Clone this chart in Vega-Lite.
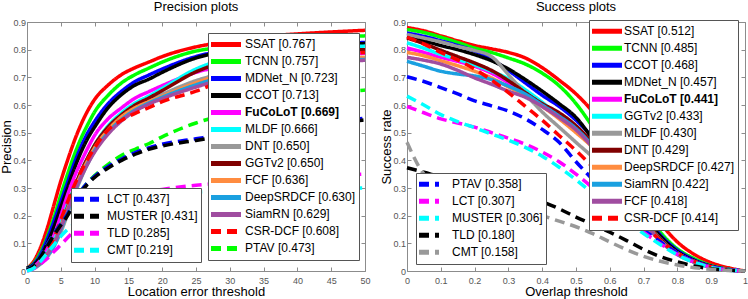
{
"$schema": "https://vega.github.io/schema/vega-lite/v6.json",
"padding": 0,
"autosize": {"type": "pad"},
"bounds": "flush",
"spacing": 42,
"config": {
  "font": "Liberation Sans",
  "view": {"stroke": "#8c8c8c", "strokeWidth": 1},
  "title": {"fontSize": 13, "fontWeight": "normal", "font": "Liberation Sans", "color": "#000000", "offset": 0},
  "axis": {"domain": false, "grid": false, "tickColor": "#8c8c8c", "tickSize": -4, "labelPadding": 5.5, "labelColor": "#555555", "labelFontSize": 9, "labelFont": "Liberation Sans", "titleFont": "Liberation Sans", "titleFontSize": 13, "titleFontWeight": "normal", "titleColor": "#000000", "labelFlush": false, "labelOverlap": false, "format": "~g"},
  "axisX": {"labelPadding": 9}
},
"datasets": {
"prec": [
{"tracker":"SSAT","x":0,"y":0.01},{"tracker":"SSAT","x":1,"y":0.035},{"tracker":"SSAT","x":2,"y":0.085},{"tracker":"SSAT","x":3,"y":0.155},{"tracker":"SSAT","x":4,"y":0.24},{"tracker":"SSAT","x":5,"y":0.325},{"tracker":"SSAT","x":6,"y":0.4},{"tracker":"SSAT","x":7,"y":0.47},{"tracker":"SSAT","x":8,"y":0.53},{"tracker":"SSAT","x":9,"y":0.58},{"tracker":"SSAT","x":10,"y":0.62},{"tracker":"SSAT","x":12,"y":0.672},{"tracker":"SSAT","x":14,"y":0.71},{"tracker":"SSAT","x":16,"y":0.735},{"tracker":"SSAT","x":18,"y":0.755},{"tracker":"SSAT","x":20,"y":0.775},{"tracker":"SSAT","x":25,"y":0.81},{"tracker":"SSAT","x":30,"y":0.83},{"tracker":"SSAT","x":35,"y":0.848},{"tracker":"SSAT","x":40,"y":0.857},{"tracker":"SSAT","x":45,"y":0.864},{"tracker":"SSAT","x":50,"y":0.87},
{"tracker":"TCNN","x":0,"y":0.01},{"tracker":"TCNN","x":1,"y":0.028},{"tracker":"TCNN","x":2,"y":0.068},{"tracker":"TCNN","x":3,"y":0.125},{"tracker":"TCNN","x":4,"y":0.195},{"tracker":"TCNN","x":5,"y":0.275},{"tracker":"TCNN","x":6,"y":0.35},{"tracker":"TCNN","x":7,"y":0.42},{"tracker":"TCNN","x":8,"y":0.48},{"tracker":"TCNN","x":9,"y":0.53},{"tracker":"TCNN","x":10,"y":0.575},{"tracker":"TCNN","x":12,"y":0.635},{"tracker":"TCNN","x":14,"y":0.68},{"tracker":"TCNN","x":16,"y":0.71},{"tracker":"TCNN","x":18,"y":0.733},{"tracker":"TCNN","x":20,"y":0.755},{"tracker":"TCNN","x":25,"y":0.795},{"tracker":"TCNN","x":30,"y":0.81},{"tracker":"TCNN","x":35,"y":0.825},{"tracker":"TCNN","x":40,"y":0.835},{"tracker":"TCNN","x":45,"y":0.843},{"tracker":"TCNN","x":50,"y":0.85},
{"tracker":"MDNet_N","x":0,"y":0.01},{"tracker":"MDNet_N","x":1,"y":0.025},{"tracker":"MDNet_N","x":2,"y":0.06},{"tracker":"MDNet_N","x":3,"y":0.115},{"tracker":"MDNet_N","x":4,"y":0.18},{"tracker":"MDNet_N","x":5,"y":0.25},{"tracker":"MDNet_N","x":6,"y":0.32},{"tracker":"MDNet_N","x":7,"y":0.39},{"tracker":"MDNet_N","x":8,"y":0.45},{"tracker":"MDNet_N","x":9,"y":0.5},{"tracker":"MDNet_N","x":10,"y":0.54},{"tracker":"MDNet_N","x":12,"y":0.605},{"tracker":"MDNet_N","x":14,"y":0.65},{"tracker":"MDNet_N","x":16,"y":0.685},{"tracker":"MDNet_N","x":18,"y":0.708},{"tracker":"MDNet_N","x":20,"y":0.73},{"tracker":"MDNet_N","x":25,"y":0.775},{"tracker":"MDNet_N","x":30,"y":0.8},{"tracker":"MDNet_N","x":35,"y":0.812},{"tracker":"MDNet_N","x":40,"y":0.818},{"tracker":"MDNet_N","x":45,"y":0.822},{"tracker":"MDNet_N","x":50,"y":0.826},
{"tracker":"CCOT","x":0,"y":0.01},{"tracker":"CCOT","x":1,"y":0.022},{"tracker":"CCOT","x":2,"y":0.052},{"tracker":"CCOT","x":3,"y":0.1},{"tracker":"CCOT","x":4,"y":0.16},{"tracker":"CCOT","x":5,"y":0.23},{"tracker":"CCOT","x":6,"y":0.3},{"tracker":"CCOT","x":7,"y":0.37},{"tracker":"CCOT","x":8,"y":0.43},{"tracker":"CCOT","x":9,"y":0.48},{"tracker":"CCOT","x":10,"y":0.52},{"tracker":"CCOT","x":12,"y":0.59},{"tracker":"CCOT","x":14,"y":0.638},{"tracker":"CCOT","x":16,"y":0.672},{"tracker":"CCOT","x":18,"y":0.693},{"tracker":"CCOT","x":20,"y":0.718},{"tracker":"CCOT","x":25,"y":0.77},{"tracker":"CCOT","x":30,"y":0.795},{"tracker":"CCOT","x":35,"y":0.806},{"tracker":"CCOT","x":40,"y":0.813},{"tracker":"CCOT","x":45,"y":0.818},{"tracker":"CCOT","x":50,"y":0.822},
{"tracker":"FuCoLoT","x":0,"y":0.005},{"tracker":"FuCoLoT","x":1,"y":0.015},{"tracker":"FuCoLoT","x":2,"y":0.04},{"tracker":"FuCoLoT","x":3,"y":0.08},{"tracker":"FuCoLoT","x":4,"y":0.13},{"tracker":"FuCoLoT","x":5,"y":0.2},{"tracker":"FuCoLoT","x":6,"y":0.275},{"tracker":"FuCoLoT","x":7,"y":0.34},{"tracker":"FuCoLoT","x":8,"y":0.395},{"tracker":"FuCoLoT","x":9,"y":0.445},{"tracker":"FuCoLoT","x":10,"y":0.49},{"tracker":"FuCoLoT","x":12,"y":0.55},{"tracker":"FuCoLoT","x":14,"y":0.59},{"tracker":"FuCoLoT","x":16,"y":0.625},{"tracker":"FuCoLoT","x":18,"y":0.648},{"tracker":"FuCoLoT","x":20,"y":0.67},{"tracker":"FuCoLoT","x":25,"y":0.718},{"tracker":"FuCoLoT","x":30,"y":0.745},{"tracker":"FuCoLoT","x":35,"y":0.762},{"tracker":"FuCoLoT","x":40,"y":0.773},{"tracker":"FuCoLoT","x":45,"y":0.781},{"tracker":"FuCoLoT","x":50,"y":0.787},
{"tracker":"MLDF","x":0,"y":0.005},{"tracker":"MLDF","x":1,"y":0.012},{"tracker":"MLDF","x":2,"y":0.03},{"tracker":"MLDF","x":3,"y":0.065},{"tracker":"MLDF","x":4,"y":0.11},{"tracker":"MLDF","x":5,"y":0.17},{"tracker":"MLDF","x":6,"y":0.24},{"tracker":"MLDF","x":7,"y":0.3},{"tracker":"MLDF","x":8,"y":0.36},{"tracker":"MLDF","x":9,"y":0.41},{"tracker":"MLDF","x":10,"y":0.455},{"tracker":"MLDF","x":12,"y":0.525},{"tracker":"MLDF","x":14,"y":0.572},{"tracker":"MLDF","x":16,"y":0.607},{"tracker":"MLDF","x":18,"y":0.632},{"tracker":"MLDF","x":20,"y":0.66},{"tracker":"MLDF","x":25,"y":0.73},{"tracker":"MLDF","x":30,"y":0.77},{"tracker":"MLDF","x":35,"y":0.79},{"tracker":"MLDF","x":40,"y":0.8},{"tracker":"MLDF","x":45,"y":0.807},{"tracker":"MLDF","x":50,"y":0.813},
{"tracker":"DNT","x":0,"y":0.005},{"tracker":"DNT","x":1,"y":0.01},{"tracker":"DNT","x":2,"y":0.025},{"tracker":"DNT","x":3,"y":0.05},{"tracker":"DNT","x":4,"y":0.09},{"tracker":"DNT","x":5,"y":0.14},{"tracker":"DNT","x":6,"y":0.205},{"tracker":"DNT","x":7,"y":0.275},{"tracker":"DNT","x":8,"y":0.335},{"tracker":"DNT","x":9,"y":0.39},{"tracker":"DNT","x":10,"y":0.435},{"tracker":"DNT","x":12,"y":0.505},{"tracker":"DNT","x":14,"y":0.555},{"tracker":"DNT","x":16,"y":0.59},{"tracker":"DNT","x":18,"y":0.615},{"tracker":"DNT","x":20,"y":0.638},{"tracker":"DNT","x":25,"y":0.688},{"tracker":"DNT","x":30,"y":0.72},{"tracker":"DNT","x":35,"y":0.74},{"tracker":"DNT","x":40,"y":0.755},{"tracker":"DNT","x":45,"y":0.765},{"tracker":"DNT","x":50,"y":0.772},
{"tracker":"GGTv2","x":0,"y":0.005},{"tracker":"GGTv2","x":1,"y":0.012},{"tracker":"GGTv2","x":2,"y":0.03},{"tracker":"GGTv2","x":3,"y":0.06},{"tracker":"GGTv2","x":4,"y":0.1},{"tracker":"GGTv2","x":5,"y":0.16},{"tracker":"GGTv2","x":6,"y":0.23},{"tracker":"GGTv2","x":7,"y":0.3},{"tracker":"GGTv2","x":8,"y":0.36},{"tracker":"GGTv2","x":9,"y":0.41},{"tracker":"GGTv2","x":10,"y":0.455},{"tracker":"GGTv2","x":12,"y":0.52},{"tracker":"GGTv2","x":14,"y":0.565},{"tracker":"GGTv2","x":16,"y":0.6},{"tracker":"GGTv2","x":18,"y":0.625},{"tracker":"GGTv2","x":20,"y":0.652},{"tracker":"GGTv2","x":25,"y":0.72},{"tracker":"GGTv2","x":30,"y":0.76},{"tracker":"GGTv2","x":35,"y":0.78},{"tracker":"GGTv2","x":40,"y":0.79},{"tracker":"GGTv2","x":45,"y":0.797},{"tracker":"GGTv2","x":50,"y":0.8},
{"tracker":"FCF","x":0,"y":0.005},{"tracker":"FCF","x":1,"y":0.012},{"tracker":"FCF","x":2,"y":0.03},{"tracker":"FCF","x":3,"y":0.06},{"tracker":"FCF","x":4,"y":0.1},{"tracker":"FCF","x":5,"y":0.16},{"tracker":"FCF","x":6,"y":0.225},{"tracker":"FCF","x":7,"y":0.29},{"tracker":"FCF","x":8,"y":0.35},{"tracker":"FCF","x":9,"y":0.4},{"tracker":"FCF","x":10,"y":0.445},{"tracker":"FCF","x":12,"y":0.51},{"tracker":"FCF","x":14,"y":0.558},{"tracker":"FCF","x":16,"y":0.59},{"tracker":"FCF","x":18,"y":0.612},{"tracker":"FCF","x":20,"y":0.632},{"tracker":"FCF","x":25,"y":0.68},{"tracker":"FCF","x":30,"y":0.72},{"tracker":"FCF","x":35,"y":0.745},{"tracker":"FCF","x":40,"y":0.76},{"tracker":"FCF","x":45,"y":0.768},{"tracker":"FCF","x":50,"y":0.772},
{"tracker":"DeepSRDCF","x":0,"y":0.005},{"tracker":"DeepSRDCF","x":1,"y":0.01},{"tracker":"DeepSRDCF","x":2,"y":0.028},{"tracker":"DeepSRDCF","x":3,"y":0.055},{"tracker":"DeepSRDCF","x":4,"y":0.09},{"tracker":"DeepSRDCF","x":5,"y":0.15},{"tracker":"DeepSRDCF","x":6,"y":0.215},{"tracker":"DeepSRDCF","x":7,"y":0.28},{"tracker":"DeepSRDCF","x":8,"y":0.34},{"tracker":"DeepSRDCF","x":9,"y":0.39},{"tracker":"DeepSRDCF","x":10,"y":0.435},{"tracker":"DeepSRDCF","x":12,"y":0.5},{"tracker":"DeepSRDCF","x":14,"y":0.548},{"tracker":"DeepSRDCF","x":16,"y":0.582},{"tracker":"DeepSRDCF","x":18,"y":0.607},{"tracker":"DeepSRDCF","x":20,"y":0.628},{"tracker":"DeepSRDCF","x":25,"y":0.673},{"tracker":"DeepSRDCF","x":30,"y":0.71},{"tracker":"DeepSRDCF","x":35,"y":0.735},{"tracker":"DeepSRDCF","x":40,"y":0.75},{"tracker":"DeepSRDCF","x":45,"y":0.758},{"tracker":"DeepSRDCF","x":50,"y":0.765},
{"tracker":"SiamRN","x":0,"y":0.005},{"tracker":"SiamRN","x":1,"y":0.012},{"tracker":"SiamRN","x":2,"y":0.03},{"tracker":"SiamRN","x":3,"y":0.06},{"tracker":"SiamRN","x":4,"y":0.1},{"tracker":"SiamRN","x":5,"y":0.155},{"tracker":"SiamRN","x":6,"y":0.22},{"tracker":"SiamRN","x":7,"y":0.285},{"tracker":"SiamRN","x":8,"y":0.34},{"tracker":"SiamRN","x":9,"y":0.388},{"tracker":"SiamRN","x":10,"y":0.43},{"tracker":"SiamRN","x":12,"y":0.495},{"tracker":"SiamRN","x":14,"y":0.543},{"tracker":"SiamRN","x":16,"y":0.578},{"tracker":"SiamRN","x":18,"y":0.603},{"tracker":"SiamRN","x":20,"y":0.623},{"tracker":"SiamRN","x":25,"y":0.665},{"tracker":"SiamRN","x":30,"y":0.7},{"tracker":"SiamRN","x":35,"y":0.725},{"tracker":"SiamRN","x":40,"y":0.742},{"tracker":"SiamRN","x":45,"y":0.752},{"tracker":"SiamRN","x":50,"y":0.762},
{"tracker":"CSR-DCF","x":0,"y":0.005},{"tracker":"CSR-DCF","x":1,"y":0.012},{"tracker":"CSR-DCF","x":2,"y":0.03},{"tracker":"CSR-DCF","x":3,"y":0.07},{"tracker":"CSR-DCF","x":4,"y":0.12},{"tracker":"CSR-DCF","x":5,"y":0.185},{"tracker":"CSR-DCF","x":6,"y":0.25},{"tracker":"CSR-DCF","x":7,"y":0.31},{"tracker":"CSR-DCF","x":8,"y":0.36},{"tracker":"CSR-DCF","x":9,"y":0.405},{"tracker":"CSR-DCF","x":10,"y":0.445},{"tracker":"CSR-DCF","x":12,"y":0.51},{"tracker":"CSR-DCF","x":14,"y":0.545},{"tracker":"CSR-DCF","x":16,"y":0.57},{"tracker":"CSR-DCF","x":18,"y":0.59},{"tracker":"CSR-DCF","x":20,"y":0.612},{"tracker":"CSR-DCF","x":25,"y":0.65},{"tracker":"CSR-DCF","x":30,"y":0.7},{"tracker":"CSR-DCF","x":35,"y":0.74},{"tracker":"CSR-DCF","x":40,"y":0.765},{"tracker":"CSR-DCF","x":45,"y":0.78},{"tracker":"CSR-DCF","x":50,"y":0.79},
{"tracker":"PTAV","x":0,"y":0.003},{"tracker":"PTAV","x":1,"y":0.02},{"tracker":"PTAV","x":2,"y":0.055},{"tracker":"PTAV","x":3,"y":0.095},{"tracker":"PTAV","x":4,"y":0.135},{"tracker":"PTAV","x":5,"y":0.17},{"tracker":"PTAV","x":6,"y":0.205},{"tracker":"PTAV","x":7,"y":0.25},{"tracker":"PTAV","x":8,"y":0.29},{"tracker":"PTAV","x":9,"y":0.32},{"tracker":"PTAV","x":10,"y":0.345},{"tracker":"PTAV","x":12,"y":0.385},{"tracker":"PTAV","x":14,"y":0.418},{"tracker":"PTAV","x":16,"y":0.44},{"tracker":"PTAV","x":18,"y":0.46},{"tracker":"PTAV","x":20,"y":0.485},{"tracker":"PTAV","x":25,"y":0.535},{"tracker":"PTAV","x":30,"y":0.57},{"tracker":"PTAV","x":35,"y":0.6},{"tracker":"PTAV","x":40,"y":0.625},{"tracker":"PTAV","x":45,"y":0.642},{"tracker":"PTAV","x":50,"y":0.654},
{"tracker":"LCT","x":0,"y":0.003},{"tracker":"LCT","x":1,"y":0.02},{"tracker":"LCT","x":2,"y":0.055},{"tracker":"LCT","x":3,"y":0.095},{"tracker":"LCT","x":4,"y":0.135},{"tracker":"LCT","x":5,"y":0.17},{"tracker":"LCT","x":6,"y":0.205},{"tracker":"LCT","x":7,"y":0.25},{"tracker":"LCT","x":8,"y":0.29},{"tracker":"LCT","x":9,"y":0.32},{"tracker":"LCT","x":10,"y":0.342},{"tracker":"LCT","x":12,"y":0.378},{"tracker":"LCT","x":14,"y":0.405},{"tracker":"LCT","x":16,"y":0.428},{"tracker":"LCT","x":18,"y":0.445},{"tracker":"LCT","x":20,"y":0.458},{"tracker":"LCT","x":25,"y":0.478},{"tracker":"LCT","x":30,"y":0.497},{"tracker":"LCT","x":35,"y":0.512},{"tracker":"LCT","x":40,"y":0.527},{"tracker":"LCT","x":45,"y":0.54},{"tracker":"LCT","x":50,"y":0.552},
{"tracker":"MUSTER","x":0,"y":0.003},{"tracker":"MUSTER","x":1,"y":0.018},{"tracker":"MUSTER","x":2,"y":0.05},{"tracker":"MUSTER","x":3,"y":0.09},{"tracker":"MUSTER","x":4,"y":0.13},{"tracker":"MUSTER","x":5,"y":0.165},{"tracker":"MUSTER","x":6,"y":0.2},{"tracker":"MUSTER","x":7,"y":0.245},{"tracker":"MUSTER","x":8,"y":0.285},{"tracker":"MUSTER","x":9,"y":0.315},{"tracker":"MUSTER","x":10,"y":0.338},{"tracker":"MUSTER","x":12,"y":0.372},{"tracker":"MUSTER","x":14,"y":0.4},{"tracker":"MUSTER","x":16,"y":0.422},{"tracker":"MUSTER","x":18,"y":0.44},{"tracker":"MUSTER","x":20,"y":0.452},{"tracker":"MUSTER","x":25,"y":0.472},{"tracker":"MUSTER","x":30,"y":0.49},{"tracker":"MUSTER","x":35,"y":0.505},{"tracker":"MUSTER","x":40,"y":0.52},{"tracker":"MUSTER","x":45,"y":0.534},{"tracker":"MUSTER","x":50,"y":0.546},
{"tracker":"TLD","x":0,"y":0},{"tracker":"TLD","x":1,"y":0.008},{"tracker":"TLD","x":2,"y":0.025},{"tracker":"TLD","x":3,"y":0.045},{"tracker":"TLD","x":4,"y":0.07},{"tracker":"TLD","x":5,"y":0.095},{"tracker":"TLD","x":6,"y":0.12},{"tracker":"TLD","x":7,"y":0.145},{"tracker":"TLD","x":8,"y":0.17},{"tracker":"TLD","x":9,"y":0.19},{"tracker":"TLD","x":10,"y":0.21},{"tracker":"TLD","x":12,"y":0.24},{"tracker":"TLD","x":14,"y":0.262},{"tracker":"TLD","x":16,"y":0.278},{"tracker":"TLD","x":18,"y":0.288},{"tracker":"TLD","x":20,"y":0.295},{"tracker":"TLD","x":25,"y":0.31},{"tracker":"TLD","x":30,"y":0.32},{"tracker":"TLD","x":35,"y":0.33},{"tracker":"TLD","x":40,"y":0.338},{"tracker":"TLD","x":45,"y":0.345},{"tracker":"TLD","x":50,"y":0.35},
{"tracker":"CMT","x":0,"y":0},{"tracker":"CMT","x":1,"y":0.01},{"tracker":"CMT","x":2,"y":0.035},{"tracker":"CMT","x":3,"y":0.065},{"tracker":"CMT","x":4,"y":0.095},{"tracker":"CMT","x":5,"y":0.125},{"tracker":"CMT","x":6,"y":0.15},{"tracker":"CMT","x":7,"y":0.17},{"tracker":"CMT","x":8,"y":0.19},{"tracker":"CMT","x":9,"y":0.205},{"tracker":"CMT","x":10,"y":0.218},{"tracker":"CMT","x":12,"y":0.24},{"tracker":"CMT","x":14,"y":0.255},{"tracker":"CMT","x":16,"y":0.265},{"tracker":"CMT","x":18,"y":0.272},{"tracker":"CMT","x":20,"y":0.278},{"tracker":"CMT","x":25,"y":0.285},{"tracker":"CMT","x":30,"y":0.29},{"tracker":"CMT","x":35,"y":0.293},{"tracker":"CMT","x":40,"y":0.296},{"tracker":"CMT","x":45,"y":0.298},{"tracker":"CMT","x":50,"y":0.3}
],
"succ": [
{"tracker":"SSAT","x":0,"y":0.88},{"tracker":"SSAT","x":0.05,"y":0.868},{"tracker":"SSAT","x":0.1,"y":0.85},{"tracker":"SSAT","x":0.15,"y":0.832},{"tracker":"SSAT","x":0.2,"y":0.815},{"tracker":"SSAT","x":0.25,"y":0.803},{"tracker":"SSAT","x":0.3,"y":0.79},{"tracker":"SSAT","x":0.35,"y":0.77},{"tracker":"SSAT","x":0.4,"y":0.735},{"tracker":"SSAT","x":0.45,"y":0.69},{"tracker":"SSAT","x":0.5,"y":0.64},{"tracker":"SSAT","x":0.55,"y":0.575},{"tracker":"SSAT","x":0.6,"y":0.49},{"tracker":"SSAT","x":0.65,"y":0.39},{"tracker":"SSAT","x":0.7,"y":0.28},{"tracker":"SSAT","x":0.75,"y":0.175},{"tracker":"SSAT","x":0.8,"y":0.105},{"tracker":"SSAT","x":0.85,"y":0.06},{"tracker":"SSAT","x":0.9,"y":0.03},{"tracker":"SSAT","x":0.95,"y":0.012},{"tracker":"SSAT","x":1,"y":0},
{"tracker":"TCNN","x":0,"y":0.873},{"tracker":"TCNN","x":0.05,"y":0.862},{"tracker":"TCNN","x":0.1,"y":0.845},{"tracker":"TCNN","x":0.15,"y":0.826},{"tracker":"TCNN","x":0.2,"y":0.806},{"tracker":"TCNN","x":0.25,"y":0.79},{"tracker":"TCNN","x":0.3,"y":0.77},{"tracker":"TCNN","x":0.35,"y":0.748},{"tracker":"TCNN","x":0.4,"y":0.715},{"tracker":"TCNN","x":0.45,"y":0.67},{"tracker":"TCNN","x":0.5,"y":0.605},{"tracker":"TCNN","x":0.55,"y":0.52},{"tracker":"TCNN","x":0.6,"y":0.43},{"tracker":"TCNN","x":0.65,"y":0.33},{"tracker":"TCNN","x":0.7,"y":0.23},{"tracker":"TCNN","x":0.75,"y":0.14},{"tracker":"TCNN","x":0.8,"y":0.08},{"tracker":"TCNN","x":0.85,"y":0.045},{"tracker":"TCNN","x":0.9,"y":0.02},{"tracker":"TCNN","x":0.95,"y":0.007},{"tracker":"TCNN","x":1,"y":0},
{"tracker":"CCOT","x":0,"y":0.86},{"tracker":"CCOT","x":0.05,"y":0.848},{"tracker":"CCOT","x":0.1,"y":0.832},{"tracker":"CCOT","x":0.15,"y":0.815},{"tracker":"CCOT","x":0.2,"y":0.795},{"tracker":"CCOT","x":0.25,"y":0.765},{"tracker":"CCOT","x":0.3,"y":0.725},{"tracker":"CCOT","x":0.35,"y":0.68},{"tracker":"CCOT","x":0.4,"y":0.635},{"tracker":"CCOT","x":0.45,"y":0.595},{"tracker":"CCOT","x":0.5,"y":0.545},{"tracker":"CCOT","x":0.55,"y":0.48},{"tracker":"CCOT","x":0.6,"y":0.39},{"tracker":"CCOT","x":0.65,"y":0.3},{"tracker":"CCOT","x":0.7,"y":0.21},{"tracker":"CCOT","x":0.75,"y":0.13},{"tracker":"CCOT","x":0.8,"y":0.075},{"tracker":"CCOT","x":0.85,"y":0.04},{"tracker":"CCOT","x":0.9,"y":0.018},{"tracker":"CCOT","x":0.95,"y":0.006},{"tracker":"CCOT","x":1,"y":0},
{"tracker":"MDNet_N","x":0,"y":0.848},{"tracker":"MDNet_N","x":0.05,"y":0.832},{"tracker":"MDNet_N","x":0.1,"y":0.815},{"tracker":"MDNet_N","x":0.15,"y":0.8},{"tracker":"MDNet_N","x":0.2,"y":0.782},{"tracker":"MDNet_N","x":0.25,"y":0.76},{"tracker":"MDNet_N","x":0.3,"y":0.73},{"tracker":"MDNet_N","x":0.35,"y":0.692},{"tracker":"MDNet_N","x":0.4,"y":0.65},{"tracker":"MDNet_N","x":0.45,"y":0.605},{"tracker":"MDNet_N","x":0.5,"y":0.555},{"tracker":"MDNet_N","x":0.55,"y":0.475},{"tracker":"MDNet_N","x":0.6,"y":0.385},{"tracker":"MDNet_N","x":0.65,"y":0.29},{"tracker":"MDNet_N","x":0.7,"y":0.2},{"tracker":"MDNet_N","x":0.75,"y":0.125},{"tracker":"MDNet_N","x":0.8,"y":0.07},{"tracker":"MDNet_N","x":0.85,"y":0.038},{"tracker":"MDNet_N","x":0.9,"y":0.017},{"tracker":"MDNet_N","x":0.95,"y":0.005},{"tracker":"MDNet_N","x":1,"y":0},
{"tracker":"FuCoLoT","x":0,"y":0.806},{"tracker":"FuCoLoT","x":0.05,"y":0.79},{"tracker":"FuCoLoT","x":0.1,"y":0.772},{"tracker":"FuCoLoT","x":0.15,"y":0.758},{"tracker":"FuCoLoT","x":0.2,"y":0.74},{"tracker":"FuCoLoT","x":0.25,"y":0.715},{"tracker":"FuCoLoT","x":0.3,"y":0.68},{"tracker":"FuCoLoT","x":0.35,"y":0.64},{"tracker":"FuCoLoT","x":0.4,"y":0.595},{"tracker":"FuCoLoT","x":0.45,"y":0.555},{"tracker":"FuCoLoT","x":0.5,"y":0.51},{"tracker":"FuCoLoT","x":0.55,"y":0.455},{"tracker":"FuCoLoT","x":0.6,"y":0.37},{"tracker":"FuCoLoT","x":0.65,"y":0.28},{"tracker":"FuCoLoT","x":0.7,"y":0.19},{"tracker":"FuCoLoT","x":0.75,"y":0.115},{"tracker":"FuCoLoT","x":0.8,"y":0.065},{"tracker":"FuCoLoT","x":0.85,"y":0.035},{"tracker":"FuCoLoT","x":0.9,"y":0.015},{"tracker":"FuCoLoT","x":0.95,"y":0.005},{"tracker":"FuCoLoT","x":1,"y":0},
{"tracker":"GGTv2","x":0,"y":0.825},{"tracker":"GGTv2","x":0.05,"y":0.805},{"tracker":"GGTv2","x":0.1,"y":0.783},{"tracker":"GGTv2","x":0.15,"y":0.765},{"tracker":"GGTv2","x":0.2,"y":0.745},{"tracker":"GGTv2","x":0.25,"y":0.722},{"tracker":"GGTv2","x":0.3,"y":0.695},{"tracker":"GGTv2","x":0.35,"y":0.655},{"tracker":"GGTv2","x":0.4,"y":0.61},{"tracker":"GGTv2","x":0.45,"y":0.56},{"tracker":"GGTv2","x":0.5,"y":0.515},{"tracker":"GGTv2","x":0.55,"y":0.46},{"tracker":"GGTv2","x":0.6,"y":0.375},{"tracker":"GGTv2","x":0.65,"y":0.28},{"tracker":"GGTv2","x":0.7,"y":0.19},{"tracker":"GGTv2","x":0.75,"y":0.115},{"tracker":"GGTv2","x":0.8,"y":0.065},{"tracker":"GGTv2","x":0.85,"y":0.035},{"tracker":"GGTv2","x":0.9,"y":0.015},{"tracker":"GGTv2","x":0.95,"y":0.005},{"tracker":"GGTv2","x":1,"y":0},
{"tracker":"MLDF","x":0,"y":0.855},{"tracker":"MLDF","x":0.05,"y":0.842},{"tracker":"MLDF","x":0.1,"y":0.828},{"tracker":"MLDF","x":0.15,"y":0.812},{"tracker":"MLDF","x":0.2,"y":0.797},{"tracker":"MLDF","x":0.25,"y":0.775},{"tracker":"MLDF","x":0.3,"y":0.71},{"tracker":"MLDF","x":0.35,"y":0.64},{"tracker":"MLDF","x":0.4,"y":0.575},{"tracker":"MLDF","x":0.45,"y":0.52},{"tracker":"MLDF","x":0.5,"y":0.465},{"tracker":"MLDF","x":0.55,"y":0.41},{"tracker":"MLDF","x":0.6,"y":0.34},{"tracker":"MLDF","x":0.65,"y":0.26},{"tracker":"MLDF","x":0.7,"y":0.18},{"tracker":"MLDF","x":0.75,"y":0.11},{"tracker":"MLDF","x":0.8,"y":0.062},{"tracker":"MLDF","x":0.85,"y":0.033},{"tracker":"MLDF","x":0.9,"y":0.014},{"tracker":"MLDF","x":0.95,"y":0.004},{"tracker":"MLDF","x":1,"y":0},
{"tracker":"DNT","x":0,"y":0.842},{"tracker":"DNT","x":0.05,"y":0.822},{"tracker":"DNT","x":0.1,"y":0.798},{"tracker":"DNT","x":0.15,"y":0.775},{"tracker":"DNT","x":0.2,"y":0.752},{"tracker":"DNT","x":0.25,"y":0.725},{"tracker":"DNT","x":0.3,"y":0.688},{"tracker":"DNT","x":0.35,"y":0.645},{"tracker":"DNT","x":0.4,"y":0.605},{"tracker":"DNT","x":0.45,"y":0.572},{"tracker":"DNT","x":0.5,"y":0.525},{"tracker":"DNT","x":0.55,"y":0.46},{"tracker":"DNT","x":0.6,"y":0.375},{"tracker":"DNT","x":0.65,"y":0.28},{"tracker":"DNT","x":0.7,"y":0.19},{"tracker":"DNT","x":0.75,"y":0.115},{"tracker":"DNT","x":0.8,"y":0.065},{"tracker":"DNT","x":0.85,"y":0.035},{"tracker":"DNT","x":0.9,"y":0.015},{"tracker":"DNT","x":0.95,"y":0.005},{"tracker":"DNT","x":1,"y":0},
{"tracker":"DeepSRDCF","x":0,"y":0.79},{"tracker":"DeepSRDCF","x":0.05,"y":0.778},{"tracker":"DeepSRDCF","x":0.1,"y":0.76},{"tracker":"DeepSRDCF","x":0.15,"y":0.742},{"tracker":"DeepSRDCF","x":0.2,"y":0.722},{"tracker":"DeepSRDCF","x":0.25,"y":0.698},{"tracker":"DeepSRDCF","x":0.3,"y":0.665},{"tracker":"DeepSRDCF","x":0.35,"y":0.635},{"tracker":"DeepSRDCF","x":0.4,"y":0.595},{"tracker":"DeepSRDCF","x":0.45,"y":0.55},{"tracker":"DeepSRDCF","x":0.5,"y":0.5},{"tracker":"DeepSRDCF","x":0.55,"y":0.445},{"tracker":"DeepSRDCF","x":0.6,"y":0.365},{"tracker":"DeepSRDCF","x":0.65,"y":0.275},{"tracker":"DeepSRDCF","x":0.7,"y":0.185},{"tracker":"DeepSRDCF","x":0.75,"y":0.11},{"tracker":"DeepSRDCF","x":0.8,"y":0.062},{"tracker":"DeepSRDCF","x":0.85,"y":0.033},{"tracker":"DeepSRDCF","x":0.9,"y":0.014},{"tracker":"DeepSRDCF","x":0.95,"y":0.004},{"tracker":"DeepSRDCF","x":1,"y":0},
{"tracker":"SiamRN","x":0,"y":0.758},{"tracker":"SiamRN","x":0.05,"y":0.74},{"tracker":"SiamRN","x":0.1,"y":0.722},{"tracker":"SiamRN","x":0.15,"y":0.712},{"tracker":"SiamRN","x":0.2,"y":0.705},{"tracker":"SiamRN","x":0.25,"y":0.692},{"tracker":"SiamRN","x":0.3,"y":0.668},{"tracker":"SiamRN","x":0.35,"y":0.64},{"tracker":"SiamRN","x":0.4,"y":0.6},{"tracker":"SiamRN","x":0.45,"y":0.56},{"tracker":"SiamRN","x":0.5,"y":0.515},{"tracker":"SiamRN","x":0.55,"y":0.45},{"tracker":"SiamRN","x":0.6,"y":0.365},{"tracker":"SiamRN","x":0.65,"y":0.27},{"tracker":"SiamRN","x":0.7,"y":0.18},{"tracker":"SiamRN","x":0.75,"y":0.108},{"tracker":"SiamRN","x":0.8,"y":0.06},{"tracker":"SiamRN","x":0.85,"y":0.032},{"tracker":"SiamRN","x":0.9,"y":0.013},{"tracker":"SiamRN","x":0.95,"y":0.004},{"tracker":"SiamRN","x":1,"y":0},
{"tracker":"FCF","x":0,"y":0.772},{"tracker":"FCF","x":0.05,"y":0.762},{"tracker":"FCF","x":0.1,"y":0.748},{"tracker":"FCF","x":0.15,"y":0.725},{"tracker":"FCF","x":0.2,"y":0.698},{"tracker":"FCF","x":0.25,"y":0.675},{"tracker":"FCF","x":0.3,"y":0.65},{"tracker":"FCF","x":0.35,"y":0.628},{"tracker":"FCF","x":0.4,"y":0.595},{"tracker":"FCF","x":0.45,"y":0.555},{"tracker":"FCF","x":0.5,"y":0.51},{"tracker":"FCF","x":0.55,"y":0.445},{"tracker":"FCF","x":0.6,"y":0.36},{"tracker":"FCF","x":0.65,"y":0.27},{"tracker":"FCF","x":0.7,"y":0.18},{"tracker":"FCF","x":0.75,"y":0.108},{"tracker":"FCF","x":0.8,"y":0.06},{"tracker":"FCF","x":0.85,"y":0.032},{"tracker":"FCF","x":0.9,"y":0.013},{"tracker":"FCF","x":0.95,"y":0.004},{"tracker":"FCF","x":1,"y":0},
{"tracker":"CSR-DCF","x":0,"y":0.845},{"tracker":"CSR-DCF","x":0.05,"y":0.82},{"tracker":"CSR-DCF","x":0.1,"y":0.79},{"tracker":"CSR-DCF","x":0.15,"y":0.763},{"tracker":"CSR-DCF","x":0.2,"y":0.73},{"tracker":"CSR-DCF","x":0.25,"y":0.69},{"tracker":"CSR-DCF","x":0.3,"y":0.645},{"tracker":"CSR-DCF","x":0.35,"y":0.595},{"tracker":"CSR-DCF","x":0.4,"y":0.545},{"tracker":"CSR-DCF","x":0.45,"y":0.49},{"tracker":"CSR-DCF","x":0.5,"y":0.435},{"tracker":"CSR-DCF","x":0.55,"y":0.375},{"tracker":"CSR-DCF","x":0.6,"y":0.31},{"tracker":"CSR-DCF","x":0.65,"y":0.24},{"tracker":"CSR-DCF","x":0.7,"y":0.17},{"tracker":"CSR-DCF","x":0.75,"y":0.11},{"tracker":"CSR-DCF","x":0.8,"y":0.065},{"tracker":"CSR-DCF","x":0.85,"y":0.035},{"tracker":"CSR-DCF","x":0.9,"y":0.015},{"tracker":"CSR-DCF","x":0.95,"y":0.005},{"tracker":"CSR-DCF","x":1,"y":0},
{"tracker":"PTAV","x":0,"y":0.702},{"tracker":"PTAV","x":0.05,"y":0.685},{"tracker":"PTAV","x":0.1,"y":0.663},{"tracker":"PTAV","x":0.15,"y":0.64},{"tracker":"PTAV","x":0.2,"y":0.615},{"tracker":"PTAV","x":0.25,"y":0.597},{"tracker":"PTAV","x":0.3,"y":0.578},{"tracker":"PTAV","x":0.35,"y":0.55},{"tracker":"PTAV","x":0.4,"y":0.512},{"tracker":"PTAV","x":0.45,"y":0.465},{"tracker":"PTAV","x":0.5,"y":0.395},{"tracker":"PTAV","x":0.55,"y":0.33},{"tracker":"PTAV","x":0.6,"y":0.265},{"tracker":"PTAV","x":0.65,"y":0.205},{"tracker":"PTAV","x":0.7,"y":0.15},{"tracker":"PTAV","x":0.75,"y":0.105},{"tracker":"PTAV","x":0.8,"y":0.065},{"tracker":"PTAV","x":0.85,"y":0.035},{"tracker":"PTAV","x":0.9,"y":0.015},{"tracker":"PTAV","x":0.95,"y":0.005},{"tracker":"PTAV","x":1,"y":0},
{"tracker":"LCT","x":0,"y":0.595},{"tracker":"LCT","x":0.05,"y":0.572},{"tracker":"LCT","x":0.1,"y":0.55},{"tracker":"LCT","x":0.15,"y":0.535},{"tracker":"LCT","x":0.2,"y":0.52},{"tracker":"LCT","x":0.25,"y":0.5},{"tracker":"LCT","x":0.3,"y":0.48},{"tracker":"LCT","x":0.35,"y":0.458},{"tracker":"LCT","x":0.4,"y":0.43},{"tracker":"LCT","x":0.45,"y":0.395},{"tracker":"LCT","x":0.5,"y":0.35},{"tracker":"LCT","x":0.55,"y":0.3},{"tracker":"LCT","x":0.6,"y":0.245},{"tracker":"LCT","x":0.65,"y":0.19},{"tracker":"LCT","x":0.7,"y":0.14},{"tracker":"LCT","x":0.75,"y":0.098},{"tracker":"LCT","x":0.8,"y":0.06},{"tracker":"LCT","x":0.85,"y":0.032},{"tracker":"LCT","x":0.9,"y":0.013},{"tracker":"LCT","x":0.95,"y":0.004},{"tracker":"LCT","x":1,"y":0},
{"tracker":"MUSTER","x":0,"y":0.632},{"tracker":"MUSTER","x":0.05,"y":0.6},{"tracker":"MUSTER","x":0.1,"y":0.565},{"tracker":"MUSTER","x":0.15,"y":0.54},{"tracker":"MUSTER","x":0.2,"y":0.518},{"tracker":"MUSTER","x":0.25,"y":0.495},{"tracker":"MUSTER","x":0.3,"y":0.473},{"tracker":"MUSTER","x":0.35,"y":0.447},{"tracker":"MUSTER","x":0.4,"y":0.415},{"tracker":"MUSTER","x":0.45,"y":0.375},{"tracker":"MUSTER","x":0.5,"y":0.33},{"tracker":"MUSTER","x":0.55,"y":0.28},{"tracker":"MUSTER","x":0.6,"y":0.23},{"tracker":"MUSTER","x":0.65,"y":0.18},{"tracker":"MUSTER","x":0.7,"y":0.135},{"tracker":"MUSTER","x":0.75,"y":0.095},{"tracker":"MUSTER","x":0.8,"y":0.058},{"tracker":"MUSTER","x":0.85,"y":0.031},{"tracker":"MUSTER","x":0.9,"y":0.013},{"tracker":"MUSTER","x":0.95,"y":0.004},{"tracker":"MUSTER","x":1,"y":0},
{"tracker":"TLD","x":0,"y":0.373},{"tracker":"TLD","x":0.05,"y":0.357},{"tracker":"TLD","x":0.1,"y":0.34},{"tracker":"TLD","x":0.15,"y":0.325},{"tracker":"TLD","x":0.2,"y":0.31},{"tracker":"TLD","x":0.25,"y":0.295},{"tracker":"TLD","x":0.3,"y":0.28},{"tracker":"TLD","x":0.35,"y":0.265},{"tracker":"TLD","x":0.4,"y":0.25},{"tracker":"TLD","x":0.45,"y":0.225},{"tracker":"TLD","x":0.5,"y":0.195},{"tracker":"TLD","x":0.55,"y":0.168},{"tracker":"TLD","x":0.6,"y":0.14},{"tracker":"TLD","x":0.65,"y":0.11},{"tracker":"TLD","x":0.7,"y":0.078},{"tracker":"TLD","x":0.75,"y":0.052},{"tracker":"TLD","x":0.8,"y":0.033},{"tracker":"TLD","x":0.85,"y":0.018},{"tracker":"TLD","x":0.9,"y":0.008},{"tracker":"TLD","x":0.95,"y":0.003},{"tracker":"TLD","x":1,"y":0},
{"tracker":"CMT","x":0,"y":0.465},{"tracker":"CMT","x":0.05,"y":0.35},{"tracker":"CMT","x":0.1,"y":0.31},{"tracker":"CMT","x":0.15,"y":0.285},{"tracker":"CMT","x":0.2,"y":0.265},{"tracker":"CMT","x":0.25,"y":0.248},{"tracker":"CMT","x":0.3,"y":0.232},{"tracker":"CMT","x":0.35,"y":0.218},{"tracker":"CMT","x":0.4,"y":0.2},{"tracker":"CMT","x":0.45,"y":0.18},{"tracker":"CMT","x":0.5,"y":0.16},{"tracker":"CMT","x":0.55,"y":0.135},{"tracker":"CMT","x":0.6,"y":0.105},{"tracker":"CMT","x":0.65,"y":0.077},{"tracker":"CMT","x":0.7,"y":0.053},{"tracker":"CMT","x":0.75,"y":0.035},{"tracker":"CMT","x":0.8,"y":0.022},{"tracker":"CMT","x":0.85,"y":0.012},{"tracker":"CMT","x":0.9,"y":0.006},{"tracker":"CMT","x":0.95,"y":0.002},{"tracker":"CMT","x":1,"y":0}
]
},
"hconcat": [
{
  "width": 338, "height": 249,
  "title": "Precision plots",
  "data": {"name": "prec"},
  "layer": [
    {
      "transform": [{"filter": {"field": "tracker", "oneOf": ["SSAT","TCNN","MDNet_N","CCOT","FuCoLoT","MLDF","DNT","GGTv2","FCF","DeepSRDCF","SiamRN","CSR-DCF","PTAV"]}}],
      "mark": {"type": "line", "strokeWidth": 3.5, "interpolate": "monotone"},
      "encoding": {
        "x": {"field": "x", "type": "quantitative", "scale": {"domain": [0, 50], "nice": false}, "axis": {"title": "Location error threshold", "values": [0,5,10,15,20,25,30,35,40,45,50], "titlePadding": 0.5}},
        "y": {"field": "y", "type": "quantitative", "scale": {"domain": [0, 0.9], "nice": false}, "axis": {"title": "Precision", "values": [0,0.1,0.2,0.3,0.4,0.5,0.6,0.7,0.8,0.9], "titlePadding": -1}},
        "color": {"field": "tracker", "type": "nominal", "scale": {"domain": ["SSAT","TCNN","MDNet_N","CCOT","FuCoLoT","MLDF","DNT","GGTv2","FCF","DeepSRDCF","SiamRN","CSR-DCF","PTAV"], "range": ["#ff0000","#00ff00","#0000ff","#000000","#ff00ff","#00ffff","#999999","#800000","#ff8c40","#1aa0e0","#a04da0","#ff0000","#00ff00"]},
          "legend": {"title": null, "orient": "none", "direction": "vertical", "legendX": 181, "legendY": 11, "symbolType": "M-1.4167,0H3.5833", "symbolSize": 144, "symbolStrokeWidth": 5, "labelOffset": 17, "clipHeight": 16.9, "rowPadding": 0, "padding": 3, "fillColor": "#ffffff", "strokeColor": "#555555", "labelFont": "Liberation Sans", "labelFontSize": 12, "labelColor": "#000000", "labelLimit": 300, "labelExpr": "{'SSAT':'SSAT [0.767]','TCNN':'TCNN [0.757]','MDNet_N':'MDNet_N [0.723]','CCOT':'CCOT [0.713]','FuCoLoT':'FuCoLoT [0.669]','MLDF':'MLDF [0.666]','DNT':'DNT [0.650]','GGTv2':'GGTv2 [0.650]','FCF':'FCF [0.636]','DeepSRDCF':'DeepSRDCF [0.630]','SiamRN':'SiamRN [0.629]','CSR-DCF':'CSR-DCF [0.608]','PTAV':'PTAV [0.473]'}[datum.value]", "labelFontWeight": {"expr": "datum.value === 'FuCoLoT' ? 'bold' : 'normal'"}}},
        "strokeDash": {"field": "tracker", "type": "nominal", "scale": {"domain": ["SSAT","TCNN","MDNet_N","CCOT","FuCoLoT","MLDF","DNT","GGTv2","FCF","DeepSRDCF","SiamRN","CSR-DCF","PTAV"], "range": [[1,0],[1,0],[1,0],[1,0],[1,0],[1,0],[1,0],[1,0],[1,0],[1,0],[1,0],[10,6],[10,6]]},
          "legend": {"title": null, "orient": "none", "direction": "vertical", "legendX": 181, "legendY": 11, "symbolType": "M-1.4167,0H3.5833", "symbolSize": 144, "symbolStrokeWidth": 5, "labelOffset": 17, "clipHeight": 16.9, "rowPadding": 0, "padding": 3, "fillColor": "#ffffff", "strokeColor": "#555555", "labelFont": "Liberation Sans", "labelFontSize": 12, "labelColor": "#000000", "labelLimit": 300, "labelExpr": "{'SSAT':'SSAT [0.767]','TCNN':'TCNN [0.757]','MDNet_N':'MDNet_N [0.723]','CCOT':'CCOT [0.713]','FuCoLoT':'FuCoLoT [0.669]','MLDF':'MLDF [0.666]','DNT':'DNT [0.650]','GGTv2':'GGTv2 [0.650]','FCF':'FCF [0.636]','DeepSRDCF':'DeepSRDCF [0.630]','SiamRN':'SiamRN [0.629]','CSR-DCF':'CSR-DCF [0.608]','PTAV':'PTAV [0.473]'}[datum.value]", "labelFontWeight": {"expr": "datum.value === 'FuCoLoT' ? 'bold' : 'normal'"}}}
      }
    },
    {
      "transform": [{"filter": {"field": "tracker", "oneOf": ["LCT","MUSTER","TLD","CMT"]}}],
      "mark": {"type": "line", "strokeWidth": 3.5, "interpolate": "monotone", "strokeDash": [10,6]},
      "encoding": {
        "x": {"field": "x", "type": "quantitative", "axis": {"orient": "top", "labels": false, "title": null, "values": [0,5,10,15,20,25,30,35,40,45,50]}},
        "y": {"field": "y", "type": "quantitative", "axis": {"orient": "right", "labels": false, "title": null, "values": [0,0.1,0.2,0.3,0.4,0.5,0.6,0.7,0.8,0.9]}},
        "color": {"field": "tracker", "type": "nominal", "scale": {"domain": ["LCT","MUSTER","TLD","CMT"], "range": ["#0000ff","#000000","#ff00ff","#00ffff"]},
          "legend": {"title": null, "orient": "none", "direction": "vertical", "legendX": 44, "legendY": 166, "symbolType": "M-1.5,0H3.5", "symbolSize": 100, "symbolStrokeWidth": 5, "symbolDash": [10,6], "labelOffset": 18, "clipHeight": 16.7, "rowPadding": 0, "padding": 3, "fillColor": "#ffffff", "strokeColor": "#555555", "labelFont": "Liberation Sans", "labelFontSize": 12, "labelColor": "#000000", "labelLimit": 300, "labelExpr": "{'LCT':'LCT [0.437]','MUSTER':'MUSTER [0.431]','TLD':'TLD [0.285]','CMT':'CMT [0.219]'}[datum.value]"}}
      }
    }
  ],
  "resolve": {"scale": {"color": "independent", "strokeDash": "independent"}, "axis": {"x": "independent", "y": "independent"}}
},
{
  "width": 338, "height": 249,
  "title": "Success plots",
  "data": {"name": "succ"},
  "layer": [
    {
      "transform": [{"filter": {"field": "tracker", "oneOf": ["SSAT","TCNN","CCOT","MDNet_N","FuCoLoT","GGTv2","MLDF","DNT","DeepSRDCF","SiamRN","FCF","CSR-DCF"]}}],
      "mark": {"type": "line", "strokeWidth": 3.5, "interpolate": "monotone"},
      "encoding": {
        "x": {"field": "x", "type": "quantitative", "scale": {"domain": [0, 1], "nice": false}, "axis": {"title": "Overlap threshold", "values": [0,0.1,0.2,0.3,0.4,0.5,0.6,0.7,0.8,0.9,1], "titlePadding": 0.5}},
        "y": {"field": "y", "type": "quantitative", "scale": {"domain": [0, 0.9], "nice": false}, "axis": {"title": "Success rate", "values": [0,0.1,0.2,0.3,0.4,0.5,0.6,0.7,0.8,0.9], "titlePadding": -1}},
        "color": {"field": "tracker", "type": "nominal", "scale": {"domain": ["SSAT","TCNN","CCOT","MDNet_N","FuCoLoT","GGTv2","MLDF","DNT","DeepSRDCF","SiamRN","FCF","CSR-DCF"], "range": ["#ff0000","#00ff00","#0000ff","#000000","#ff00ff","#00ffff","#999999","#800000","#ff8c40","#1aa0e0","#a04da0","#ff0000"]},
          "legend": {"title": null, "orient": "none", "direction": "vertical", "legendX": 182, "legendY": -2, "symbolType": "M-1.4167,0H3.5833", "symbolSize": 144, "symbolStrokeWidth": 5, "labelOffset": 15, "clipHeight": 16.7, "rowPadding": 0, "padding": 3, "fillColor": "#ffffff", "strokeColor": "#555555", "labelFont": "Liberation Sans", "labelFontSize": 12, "labelColor": "#000000", "labelLimit": 300, "labelExpr": "{'SSAT':'SSAT [0.512]','TCNN':'TCNN [0.485]','CCOT':'CCOT [0.468]','MDNet_N':'MDNet_N [0.457]','FuCoLoT':'FuCoLoT [0.441]','GGTv2':'GGTv2 [0.433]','MLDF':'MLDF [0.430]','DNT':'DNT [0.429]','DeepSRDCF':'DeepSRDCF [0.427]','SiamRN':'SiamRN [0.422]','FCF':'FCF [0.418]','CSR-DCF':'CSR-DCF [0.414]'}[datum.value]", "labelFontWeight": {"expr": "datum.value === 'FuCoLoT' ? 'bold' : 'normal'"}}},
        "strokeDash": {"field": "tracker", "type": "nominal", "scale": {"domain": ["SSAT","TCNN","CCOT","MDNet_N","FuCoLoT","GGTv2","MLDF","DNT","DeepSRDCF","SiamRN","FCF","CSR-DCF"], "range": [[1,0],[1,0],[1,0],[1,0],[1,0],[1,0],[1,0],[1,0],[1,0],[1,0],[1,0],[10,6]]},
          "legend": {"title": null, "orient": "none", "direction": "vertical", "legendX": 182, "legendY": -2, "symbolType": "M-1.4167,0H3.5833", "symbolSize": 144, "symbolStrokeWidth": 5, "labelOffset": 15, "clipHeight": 16.7, "rowPadding": 0, "padding": 3, "fillColor": "#ffffff", "strokeColor": "#555555", "labelFont": "Liberation Sans", "labelFontSize": 12, "labelColor": "#000000", "labelLimit": 300, "labelExpr": "{'SSAT':'SSAT [0.512]','TCNN':'TCNN [0.485]','CCOT':'CCOT [0.468]','MDNet_N':'MDNet_N [0.457]','FuCoLoT':'FuCoLoT [0.441]','GGTv2':'GGTv2 [0.433]','MLDF':'MLDF [0.430]','DNT':'DNT [0.429]','DeepSRDCF':'DeepSRDCF [0.427]','SiamRN':'SiamRN [0.422]','FCF':'FCF [0.418]','CSR-DCF':'CSR-DCF [0.414]'}[datum.value]", "labelFontWeight": {"expr": "datum.value === 'FuCoLoT' ? 'bold' : 'normal'"}}}
      }
    },
    {
      "transform": [{"filter": {"field": "tracker", "oneOf": ["PTAV","LCT","MUSTER","TLD","CMT"]}}],
      "mark": {"type": "line", "strokeWidth": 3.5, "interpolate": "monotone", "strokeDash": [10,6]},
      "encoding": {
        "x": {"field": "x", "type": "quantitative", "axis": {"orient": "top", "labels": false, "title": null, "values": [0,0.1,0.2,0.3,0.4,0.5,0.6,0.7,0.8,0.9,1]}},
        "y": {"field": "y", "type": "quantitative", "axis": {"orient": "right", "labels": false, "title": null, "values": [0,0.1,0.2,0.3,0.4,0.5,0.6,0.7,0.8,0.9]}},
        "color": {"field": "tracker", "type": "nominal", "scale": {"domain": ["PTAV","LCT","MUSTER","TLD","CMT"], "range": ["#0000ff","#ff00ff","#00ffff","#000000","#999999"]},
          "legend": {"title": null, "orient": "none", "direction": "vertical", "legendX": 9, "legendY": 151, "symbolType": "M-1.625,0H3.375", "symbolSize": 64, "symbolStrokeWidth": 5, "symbolDash": [10,6], "labelOffset": 20, "clipHeight": 16.25, "rowPadding": 0, "padding": 3, "fillColor": "#ffffff", "strokeColor": "#555555", "labelFont": "Liberation Sans", "labelFontSize": 12, "labelColor": "#000000", "labelLimit": 300, "labelExpr": "{'PTAV':'PTAV [0.358]','LCT':'LCT [0.307]','MUSTER':'MUSTER [0.306]','TLD':'TLD [0.180]','CMT':'CMT [0.158]'}[datum.value]"}}
      }
    }
  ],
  "resolve": {"scale": {"color": "independent", "strokeDash": "independent"}, "axis": {"x": "independent", "y": "independent"}}
}
]
}
